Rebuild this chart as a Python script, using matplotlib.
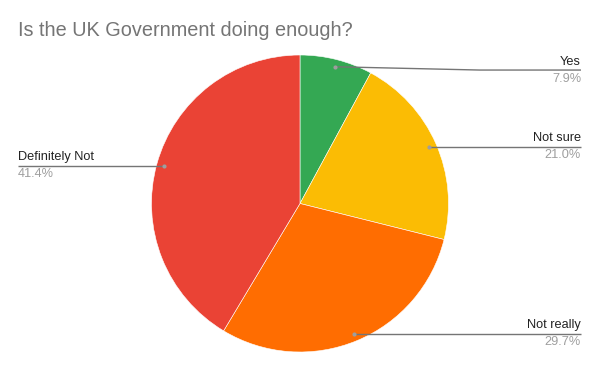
import numpy as np
import matplotlib
matplotlib.use('Agg')
import matplotlib.pyplot as plt

plt.rcParams['font.family'] = ['Liberation Sans', 'DejaVu Sans']

# data
labels = ['Yes', 'Not sure', 'Not really', 'Definitely Not']
values = [7.9, 21.0, 29.7, 41.4]
colors = ['#34a853', '#fbbc04', '#ff6d01', '#ea4335']
title = 'Is the UK Government doing enough?'

fig = plt.figure(figsize=(6.0, 3.71), dpi=100)
ax = fig.add_axes([0, 0, 1, 1])

cx, cy, R = 300, 203.5, 148.5
wedges, _ = ax.pie(values, colors=colors, startangle=90, counterclock=False,
                   center=(cx, cy), radius=R, frame=True,
                   wedgeprops=dict(linewidth=0.4, edgecolor='white'))
# y axis is inverted below, so flip the pie back to clockwise-from-top
for w in wedges:
    t1, t2 = w.theta1, w.theta2
    w.set_theta1(-t2)
    w.set_theta2(-t1)
# axes in pixel units so layout matches the reference
ax.set_xlim(0, 600)
ax.set_ylim(371, 0)
ax.set_aspect('equal')
ax.axis('off')

# label lines
total = sum(values)
cum = np.cumsum([0] + values[:-1])
line_nudge = [3.3, 0, 0, 0]
for i, lab in enumerate(labels):
    mid = (cum[i] + values[i] / 2) / total * 2 * np.pi
    px = cx + 0.95 * R * np.sin(mid)
    py = cy - 0.95 * R * np.cos(mid)
    ly = py + line_nudge[i]
    if px > cx:
        xend, ha = 581, 'right'
        xs = [px, px + 145 if line_nudge[i] else px, xend]
    else:
        xend, ha = 18, 'left'
        xs = [px, px, xend]
    ys = [py, ly, ly]
    ax.plot(xs, ys, color='#757575', lw=1.0, solid_capstyle='butt', zorder=3)
    ax.plot(px, py, 'o', ms=3, color='#9e9e9e', mec='none', zorder=4)
    ax.text(xend, ly - 2.5, lab, ha=ha, va='bottom', fontsize=9.2, color='#222222')
    ax.text(xend, ly + 2.5, f'{values[i]:.1f}%', ha=ha, va='top', fontsize=9.2,
            color='#9e9e9e')

ax.text(18, 31, title, ha='left', va='center', fontsize=14.3, color='#757575')

fig.savefig('out.png', dpi=100)
